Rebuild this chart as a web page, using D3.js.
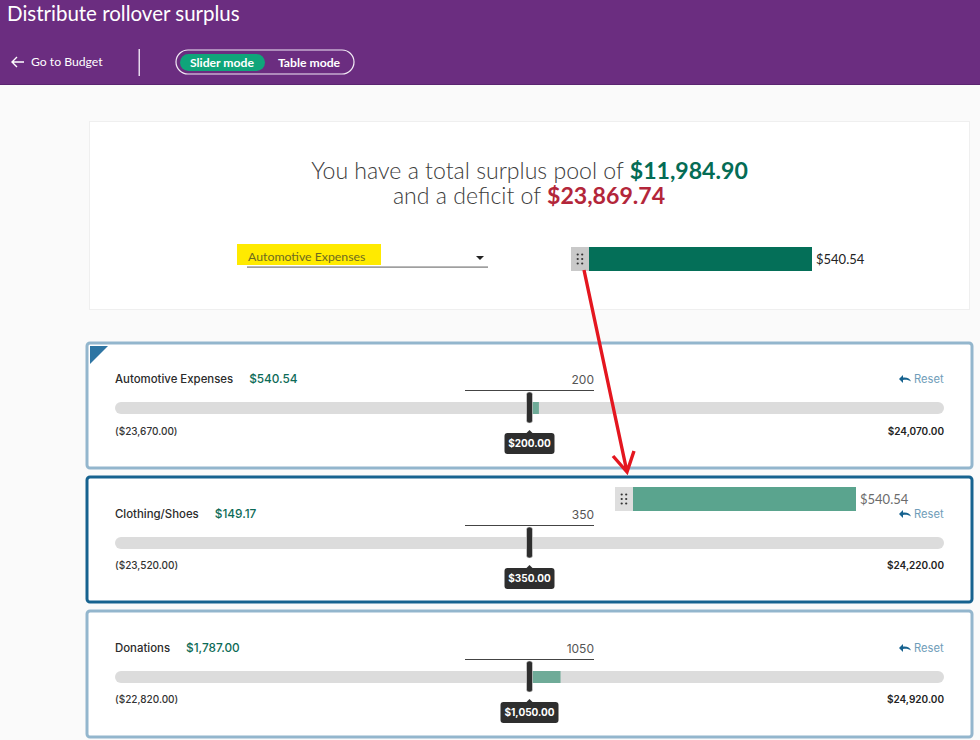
<!DOCTYPE html>
<html>
<head>
<meta charset="utf-8">
<script src="https://cdn.jsdelivr.net/npm/d3@7"></script>
<style>
html, body { margin: 0; padding: 0; background: #fafafa; overflow: hidden; }
svg { display: block; font-family: Inter, "Open Sans", sans-serif; }
</style>
</head>
<body>
<script>
// values
let categories = ["Automotive Expenses", "Clothing/Shoes", "Donations"];
let available = [540.54, 149.17, 1787.00];
let allocated = [200, 350, 1050];
let minValues = [-23670, -23520, -22820];
let maxValues = [24070, 24220, 24920];
let surplus = 11984.90, deficit = 23869.74;
let dragged = 540.54;

let width = 980, height = 740;
let trackLeft = 115, trackRight = 944;
let cardTop = [343, 477, 611];
let cardLine = ["#93b6cd", "#16628f", "#93b6cd"];

let money = d3.format("$,.2f");
let bracket = v => v < 0 ? "(" + money(-v) + ")" : money(v);

let svg = d3.select("body").append("svg")
  .attr("width", width)
  .attr("height", height);

// header
svg.append("rect").attr("width", width).attr("height", 85).attr("fill", "#6b2d80");
svg.append("rect").attr("y", 84).attr("width", width).attr("height", 1).attr("fill", "#5a2470");
svg.append("text").attr("x", 7).attr("y", 21).text("Distribute rollover surplus")
  .attr("fill", "#fff").style("font-family", "Lato").style("font-size", "20.5px");

svg.append("path").attr("d", "M24 62H12M17 57l-5 5 5 5")
  .attr("fill", "none").attr("stroke", "#fff").attr("stroke-width", 1.4);
svg.append("text").attr("x", 31).attr("y", 66).text("Go to Budget")
  .attr("fill", "#fff").style("font-family", "Lato").style("font-size", "12.2px");
svg.append("rect").attr("x", 138.5).attr("y", 49).attr("width", 1.5).attr("height", 27).attr("fill", "#e6d9ec");

svg.append("rect").attr("x", 176).attr("y", 50).attr("width", 178).attr("height", 24).attr("rx", 12)
  .attr("fill", "none").attr("stroke", "#f2eaf5").attr("stroke-width", 1.2);
svg.append("rect").attr("x", 180).attr("y", 54).attr("width", 85).attr("height", 17).attr("rx", 8.5)
  .attr("fill", "#0fa57a");
svg.append("text").attr("x", 222).attr("y", 67).attr("text-anchor", "middle").text("Slider mode")
  .attr("fill", "#fff").style("font-family", "Lato").style("font-weight", 700).style("font-size", "12.2px");
svg.append("text").attr("x", 309).attr("y", 67).attr("text-anchor", "middle").text("Table mode")
  .attr("fill", "#fff").style("font-family", "Lato").style("font-weight", 700).style("font-size", "12.2px");

// summary panel
svg.append("rect").attr("x", 89.5).attr("y", 121.5).attr("width", 880).attr("height", 188)
  .attr("fill", "#fff").attr("stroke", "#efefef");

let line1 = svg.append("text").attr("x", 529.5).attr("y", 179).attr("text-anchor", "middle")
  .attr("fill", "#3c3c3c").style("font-family", "Lato").style("font-weight", 300).style("font-size", "23.1px");
line1.append("tspan").text("You have a total surplus pool of ");
line1.append("tspan").text(money(surplus)).attr("fill", "#046c55").style("font-weight", 700);
let line2 = svg.append("text").attr("x", 529).attr("y", 204).attr("text-anchor", "middle")
  .attr("fill", "#3c3c3c").style("font-family", "Lato").style("font-weight", 300).style("font-size", "23.1px");
line2.append("tspan").text("and a deficit of ");
line2.append("tspan").text("$" + d3.format(",.2f")(deficit)).attr("fill", "#b3263a").style("font-weight", 700);

// dropdown with the yellow highlight
svg.append("rect").attr("x", 237).attr("y", 244).attr("width", 144).attr("height", 21).attr("fill", "#ffea00");
svg.append("text").attr("x", 248).attr("y", 261).text(categories[0])
  .attr("fill", "#6d6a20").style("font-family", "Lato").style("font-size", "12.3px");
svg.append("rect").attr("x", 247).attr("y", 266.5).attr("width", 241).attr("height", 1.2).attr("fill", "#777");
svg.append("path").attr("d", "M476 256h8l-4 4z").attr("fill", "#222");

// draggable bars share one length scale
let dragScale = d3.scaleLinear().domain([0, dragged]).range([0, 223]);

function dragBar(x, y, fill, labelFill, gripFill) {
  svg.append("rect").attr("x", x - 18).attr("y", y).attr("width", 18).attr("height", 24).attr("fill", gripFill);
  [-3, 1.5].forEach(dx => [7.5, 12, 16.5].forEach(dy => {
    svg.append("circle").attr("cx", x - 9 + dx + 0.7).attr("cy", y + dy).attr("r", 1.1).attr("fill", "#333");
  }));
  svg.append("rect").attr("x", x).attr("y", y).attr("width", dragScale(dragged)).attr("height", 24).attr("fill", fill);
  svg.append("text").attr("x", x + dragScale(dragged) + 4).attr("y", y + 17).text(money(dragged))
    .attr("fill", labelFill).style("font-family", "Lato").style("font-size", "13px");
}
dragBar(589, 247, "#046f58", "#222", "#c9c9c9");

// category cards
categories.forEach((name, i) => {
  let top = cardTop[i];
  let x = d3.scaleLinear().domain([minValues[i], maxValues[i]]).range([trackLeft, trackRight]);
  let g = svg.append("g");
  let off = i == 0 ? 0 : 1;

  g.append("rect").attr("x", 87).attr("y", top).attr("width", 885).attr("height", i == 2 ? 126 : 125).attr("rx", 3)
    .attr("fill", "#fff").attr("stroke", cardLine[i]).attr("stroke-width", 3);

  let title = g.append("text").attr("x", trackLeft).attr("y", top + 40 + off).text(name)
    .attr("fill", "#2b2b2b").style("font-size", "11.4px").style("font-weight", 500);
  let nameWidth = title.node().getComputedTextLength();
  g.append("text").attr("x", trackLeft + nameWidth + 16).attr("y", top + 40 + off).text(money(available[i]))
    .attr("fill", "#0d6b57").style("font-size", "11.8px").style("font-weight", 500);

  // input field
  g.append("text").attr("x", 594).attr("y", top + 41 + off).attr("text-anchor", "end").text(allocated[i])
    .attr("fill", "#555").style("font-size", "12px");
  g.append("rect").attr("x", 465).attr("y", top + 47 + off).attr("width", 129).attr("height", 1).attr("fill", "#444");

  // reset link
  g.append("path").attr("d", `M899 ${top + 36 + off}l4 -4v2.5c4 -0.5 7 1 8 4c-2 -1.5 -5 -2 -8 -1.5v3z`).attr("fill", "#16628f");
  g.append("text").attr("x", 914).attr("y", top + 40 + off).text("Reset")
    .attr("fill", "#6f9db9").style("font-size", "11.2px");

  // track
  let ty = top + 59 + off;
  g.append("rect").attr("x", x.range()[0]).attr("y", ty).attr("width", x.range()[1] - x.range()[0]).attr("height", 12).attr("rx", 6)
    .attr("fill", "#dcdcdc");
  g.append("rect").attr("x", x(allocated[i])).attr("y", ty)
    .attr("width", x(allocated[i] + available[i]) - x(allocated[i])).attr("height", 12)
    .attr("fill", "#6fab98");

  // handle
  g.append("rect").attr("x", x(allocated[i]) - 3).attr("y", ty - 10).attr("width", 6).attr("height", 31).attr("rx", 2.5)
    .attr("fill", "#2e2e2e").attr("stroke", "#e4e4e4").attr("stroke-width", 0.6);

  // range labels
  g.append("text").attr("x", trackLeft).attr("y", top + 92).text(bracket(minValues[i]))
    .attr("fill", "#333").style("font-size", "10px").style("font-weight", 500);
  g.append("text").attr("x", trackRight).attr("y", top + 92).attr("text-anchor", "end").text(bracket(maxValues[i]))
    .attr("fill", "#222").style("font-size", "10px").style("font-weight", 600);

  // tooltip
  let label = money(allocated[i]);
  let tw = label.length > 7 ? 58 : 50;
  let tx = x(allocated[i]);
  let tipTop = top + 90 + off;
  g.append("path").attr("d", `M${tx - 4} ${tipTop + 1}l4 -4l4 4z`).attr("fill", "#2e2e2e");
  g.append("rect").attr("x", tx - tw / 2).attr("y", tipTop).attr("width", tw).attr("height", 21).attr("rx", 3)
    .attr("fill", "#2e2e2e");
  g.append("text").attr("x", tx).attr("y", tipTop + 14).attr("text-anchor", "middle").text(label)
    .attr("fill", "#fff").style("font-size", "10px").style("font-weight", 700);
});

// corner marker on the first card
svg.append("path").attr("d", "M90 346h18l-18 18z").attr("fill", "#2e75a3");

// bar being dragged
dragBar(633, 487, "#5aa48e", "#6b6b6b", "#dedede");

// red annotation arrow
svg.append("path").attr("d", "M584 270L627 472M613 456L627 472L634 451")
  .attr("fill", "none").attr("stroke", "#e4161f").attr("stroke-width", 3.4);
</script>
</body>
</html>
